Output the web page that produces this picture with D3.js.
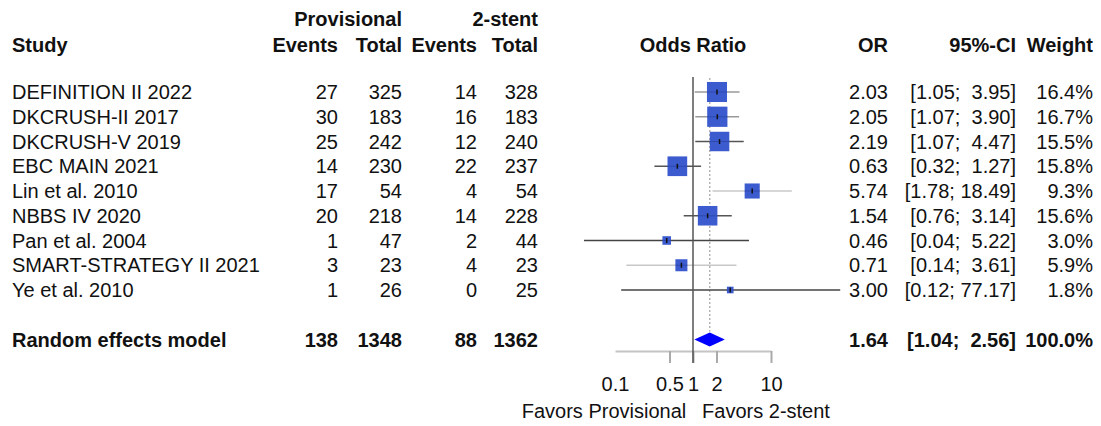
<!DOCTYPE html>
<html>
<head>
<meta charset="utf-8">
<script src="https://cdn.jsdelivr.net/npm/d3@7"></script>
<style>
  body { margin: 0; background: #fff; }
  svg text { font-family: "Liberation Sans", Arial, sans-serif; fill: #111; white-space: pre; }
</style>
</head>
<body>
<svg width="1101" height="426"></svg>
<script>
// study rows
var studies = ["DEFINITION II 2022", "DKCRUSH-II 2017", "DKCRUSH-V 2019", "EBC MAIN 2021",
    "Lin et al. 2010", "NBBS IV 2020", "Pan et al. 2004", "SMART-STRATEGY II 2021", "Ye et al. 2010"];
var provEvents = [27, 30, 25, 14, 17, 20, 1, 3, 1];
var provTotal = [325, 183, 242, 230, 54, 218, 47, 23, 26];
var stentEvents = [14, 16, 12, 22, 4, 14, 2, 4, 0];
var stentTotal = [328, 183, 240, 237, 54, 228, 44, 23, 25];
var orVals = [2.03, 2.05, 2.19, 0.63, 5.74, 1.54, 0.46, 0.71, 3.00];
var ciLow = [1.05, 1.07, 1.07, 0.32, 1.78, 0.76, 0.04, 0.14, 0.12];
var ciHigh = [3.95, 3.90, 4.47, 1.27, 18.49, 3.14, 5.22, 3.61, 77.17];
var weights = [16.4, 16.7, 15.5, 15.8, 9.3, 15.6, 3.0, 5.9, 1.8];

// pooled (random effects)
var pooledTotals = [138, 1348, 88, 1362];
var pooledOR = 1.64, pooledLow = 1.04, pooledHigh = 2.56, pooledWeight = 100.0;

var axisTicks = [0.1, 0.5, 1, 2, 10];

// line shade of each CI (as in the picture)
var ciShade = ["#9a9a9a", "#9a9a9a", "#555", "#555", "#c8c8c8", "#555", "#444", "#c8c8c8", "#444"];

var svg = d3.select("svg");
var fs = 20;

var x = d3.scaleLog().domain([0.1, 10]).range([615, 771]);
var y = d3.scaleLinear().domain([0, 10]).range([92, 339.5]);

var col = { study: 12, e1: 338, n1: 402, e2: 477, n2: 538, or: 888, ci: 1016, w: 1093 };

function txt(xp, yp, s, anchor, bold) {
    return svg.append("text")
        .attr("x", xp).attr("y", yp)
        .attr("text-anchor", anchor || "start")
        .attr("font-size", fs)
        .attr("font-weight", bold ? "bold" : "normal")
        .text(s);
}

// headers
txt(col.n1, 26, "Provisional", "end", true);
txt(col.n2, 26, "2-stent", "end", true);
txt(col.study, 52, "Study", "start", true);
txt(col.e1, 52, "Events", "end", true);
txt(col.n1, 52, "Total", "end", true);
txt(col.e2, 52, "Events", "end", true);
txt(col.n2, 52, "Total", "end", true);
txt(x(1), 52, "Odds Ratio", "middle", true);
txt(col.or, 52, "OR", "end", true);
txt(col.ci, 52, "95%-CI", "end", true);
txt(col.w, 52, "Weight", "end", true);

var f2 = d3.format(".2f"), f1 = d3.format(".1f");
function ciText(lo, hi) {
    return "[" + f2(lo) + "; " + f2(hi).padStart(5, " ") + "]";
}

// dotted line at pooled estimate
svg.append("line")
    .attr("x1", x(pooledOR)).attr("x2", x(pooledOR))
    .attr("y1", 78).attr("y2", y(10) - 8)
    .attr("stroke", "#aaa").attr("stroke-width", 1.3)
    .attr("stroke-dasharray", "2,2");

// study rows
studies.forEach(function (s, i) {
    var yy = y(i);
    txt(col.study, yy + 7, s);
    txt(col.e1, yy + 7, provEvents[i], "end");
    txt(col.n1, yy + 7, provTotal[i], "end");
    txt(col.e2, yy + 7, stentEvents[i], "end");
    txt(col.n2, yy + 7, stentTotal[i], "end");
    txt(col.or, yy + 7, f2(orVals[i]), "end");
    txt(col.ci, yy + 7, ciText(ciLow[i], ciHigh[i]), "end");
    txt(col.w, yy + 7, f1(weights[i]) + "%", "end");

    svg.append("line")
        .attr("x1", x(ciLow[i])).attr("x2", x(ciHigh[i]))
        .attr("y1", yy).attr("y2", yy)
        .attr("stroke", ciShade[i]).attr("stroke-width", 1.5);

    var side = 4.95 * Math.sqrt(weights[i]);
    svg.append("rect")
        .attr("x", x(orVals[i]) - side / 2).attr("y", yy - side / 2)
        .attr("width", side).attr("height", side)
        .attr("fill", "#3b5bcf");

    svg.append("line")
        .attr("x1", x(orVals[i]) - side / 2).attr("x2", x(orVals[i]) + side / 2)
        .attr("y1", yy).attr("y2", yy)
        .attr("stroke", "#1a2a70").attr("stroke-width", 1).attr("opacity", 0.35);
    svg.append("line")
        .attr("x1", x(orVals[i])).attr("x2", x(orVals[i]))
        .attr("y1", yy - 2.5).attr("y2", yy + 2.5)
        .attr("stroke", "#111").attr("stroke-width", 1.5);
});

// pooled row
var yp = y(10);
txt(col.study, yp + 7, "Random effects model", "start", true);
txt(col.e1, yp + 7, pooledTotals[0], "end", true);
txt(col.n1, yp + 7, pooledTotals[1], "end", true);
txt(col.e2, yp + 7, pooledTotals[2], "end", true);
txt(col.n2, yp + 7, pooledTotals[3], "end", true);
txt(col.or, yp + 7, f2(pooledOR), "end", true);
txt(col.ci, yp + 7, ciText(pooledLow, pooledHigh), "end", true);
txt(col.w, yp + 7, f1(pooledWeight) + "%", "end", true);

svg.append("path")
    .attr("d", "M" + x(pooledLow) + "," + yp +
        "L" + x(pooledOR) + "," + (yp - 7) +
        "L" + x(pooledHigh) + "," + yp +
        "L" + x(pooledOR) + "," + (yp + 7) + "Z")
    .attr("fill", "#0000ff");

// x axis
var axisG = svg.append("g")
    .attr("transform", "translate(0,351)")
    .call(d3.axisBottom(x)
        .tickValues(axisTicks)
        .tickFormat(function (d) { return d; })
        .tickSize(12)
        .tickSizeOuter(0)
        .tickPadding(14));
axisG.select(".domain").attr("stroke", "#c4c4c4").attr("stroke-width", 2);
axisG.selectAll(".tick line").attr("stroke", "#aaa").attr("stroke-width", 2)
    .attr("opacity", function (d) { return d === 0.1 ? 0 : 1; });
axisG.selectAll(".tick text")
    .attr("font-size", fs)
    .attr("font-family", "Liberation Sans, Arial, sans-serif")
    .attr("fill", "#111");

// reference line at OR = 1
svg.append("line")
    .attr("x1", x(1)).attr("x2", x(1))
    .attr("y1", 77).attr("y2", 363)
    .attr("stroke", "#555").attr("stroke-width", 1.5);

txt(x(0.1) - 11, 418, "Favors Provisional", "middle");
txt(x(10) - 5, 418, "Favors 2-stent", "middle");
</script>
</body>
</html>
